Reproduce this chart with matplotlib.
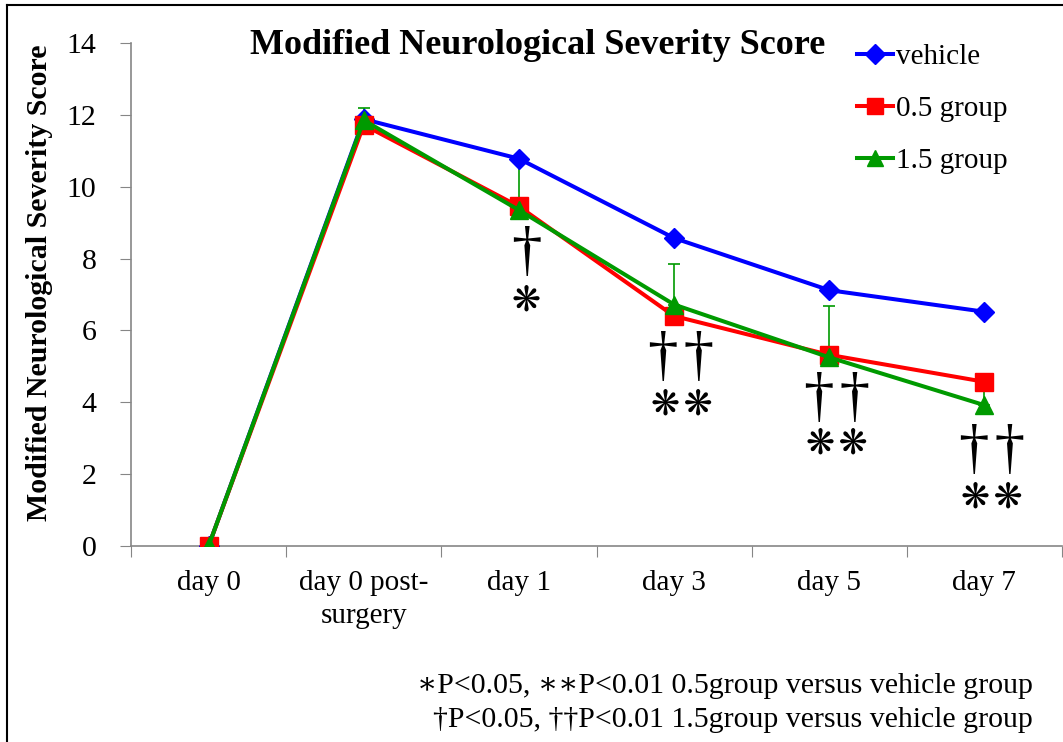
import matplotlib
matplotlib.use("Agg")
import matplotlib.pyplot as plt
from matplotlib.lines import Line2D
import numpy as np

categories = ["day 0", "day 0 post-\nsurgery", "day 1", "day 3", "day 5", "day 7"]
vehicle = [0, 11.88, 10.78, 8.57, 7.12, 6.52]
group05 = [0, 11.72, 9.45, 6.40, 5.32, 4.57]
group15 = [0, 11.85, 9.35, 6.72, 5.25, 3.92]
err15 = [0, 0.35, 1.45, 1.12, 1.43, 0.62]

# significance marks per category
sig_idx = [2, 3, 4, 5]
sig_count = [1, 2, 2, 2]
dagger_y = [8.12, 5.2, 4.06, 2.61]
star_y = [6.82, 3.95, 2.84, 1.36]

plt.rcParams['font.family'] = ['Liberation Serif', 'DejaVu Serif', 'DejaVu Sans']

W, H = 1063, 742
fig = plt.figure(figsize=(W / 100, H / 100), dpi=100)
ax = fig.add_axes([131 / W, 1 - 546 / H, (1062 - 131) / W, (546 - 43) / H])

x = np.arange(len(categories))
BLUE, RED, GREEN = "#0000FF", "#FF0000", "#009A00"

ax.plot(x, vehicle, color=BLUE, lw=2.9, marker='D', ms=10.5, mec=BLUE, mfc=BLUE,
        label="vehicle", zorder=3)
ax.plot(x, group05, color=RED, lw=2.9, marker='s', ms=12.5, mec=RED, mfc=RED,
        label="0.5 group", zorder=4)
ax.errorbar(x, group15, yerr=[np.zeros(len(err15)), err15], fmt='none', ecolor=GREEN,
            elinewidth=1.2, capsize=4, capthick=1.2, zorder=2)
ax.plot(x, group15, color=GREEN, lw=2.9, marker='^', ms=12.5, mec=GREEN, mfc=GREEN,
        label="1.5 group", zorder=5)

ax.set_xlim(-0.5, len(categories) - 0.5)
ax.set_ylim(0, 14)
ax.set_yticks(np.arange(0, 15, 2))
ax.set_yticklabels([str(v) for v in range(0, 15, 2)], fontsize=21.5)
ax.set_xticks(np.arange(-0.5, len(categories), 1.0))
ax.set_xticklabels([])
ax.set_xticks(x, minor=True)
ax.set_xticklabels(categories, minor=True, fontsize=21, linespacing=1.35)
ax.tick_params(axis='x', which='major', length=8, direction='out', color='#868686')
ax.tick_params(axis='x', which='minor', length=0, pad=17)
ax.tick_params(axis='y', length=8, direction='out', color='#868686', pad=17)

for s in ['top', 'right']:
    ax.spines[s].set_visible(False)
for s in ['left', 'bottom']:
    ax.spines[s].set_color('#868686')
    ax.spines[s].set_linewidth(1.2)

ax.set_ylabel("Modified Neurological Severity Score", fontsize=21.5, fontweight='bold')
ax.yaxis.set_label_coords((53 - 131) / (1062 - 131), (546 - 283) / (546 - 43))

fig.text(538 / W, 1 - 46 / H, "Modified Neurological Severity Score", fontsize=26,
         fontweight='bold', ha='center', va='center')

leg = ax.legend(loc='upper left', bbox_to_anchor=(857 / W, 1 - 44 / H),
                bbox_transform=fig.transFigure, frameon=False, fontsize=21,
                handlelength=1.25, handletextpad=0.07, labelspacing=0.87,
                borderpad=0, borderaxespad=0, markerscale=0.95)

# significance symbols
dx_center = 0.048
HS = "\u200A"
for i, n, dy, sy in zip(sig_idx, sig_count, dagger_y, star_y):
    ax.text(i + dx_center, dy, HS.join(["\u2020"] * n), fontsize=44, ha='center',
            va='center', family=['Liberation Serif', 'DejaVu Serif'], zorder=6)
    ax.text(i + dx_center, sy, HS.join(["\u274B"] * n), fontsize=25, ha='center',
            va='center', family=['DejaVu Sans'], zorder=6)

fig.text(1033 / W, 1 - 686 / H, "\u2217P<0.05, \u2217\u2217P<0.01 0.5group versus vehicle group",
         fontsize=21.5, ha='right', va='center')
fig.text(1033 / W, 1 - 720 / H, "\u2020P<0.05, \u2020\u2020P<0.01 1.5group versus vehicle group",
         fontsize=21.5, ha='right', va='center')

# figure frame (left and top edges visible)
fig.add_artist(Line2D([7 / W, 7 / W], [0, 1 - 5 / H], transform=fig.transFigure,
                      color='black', lw=1.5))
fig.add_artist(Line2D([7 / W, 1], [1 - 5 / H, 1 - 5 / H], transform=fig.transFigure,
                      color='black', lw=1.5))

fig.savefig("out.png", dpi=100)
